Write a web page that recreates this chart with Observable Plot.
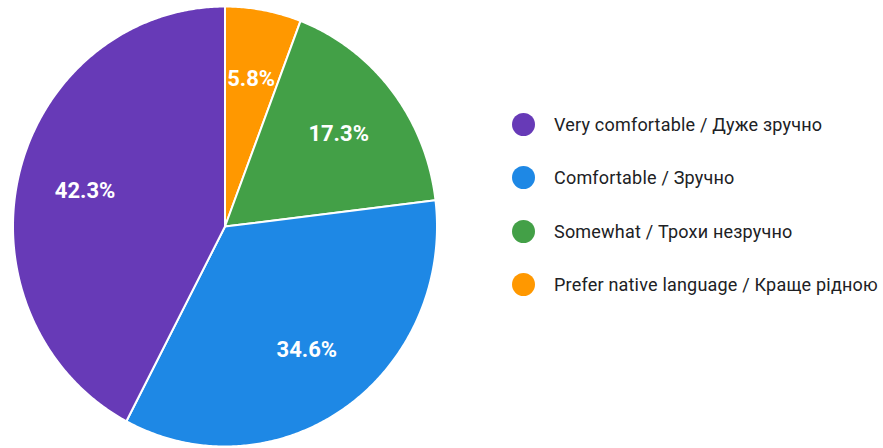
<!DOCTYPE html>
<html>
<head>
<meta charset="utf-8">
<script src="https://cdn.jsdelivr.net/npm/d3@7"></script>
<script src="https://cdn.jsdelivr.net/npm/@observablehq/plot@0.6"></script>
<style>
  html, body { margin: 0; padding: 0; background: #fff; }
  #wrap { position: relative; width: 883px; height: 448px; overflow: hidden; font-family: Roboto, "Noto Sans", sans-serif; }
  #legend { position: absolute; left: 512px; top: 98px; }
  .item { display: flex; align-items: center; height: 53.3px; }
  .sw { width: 23px; height: 23px; border-radius: 50%; margin-right: 19px; flex: none; }
  .lbl { font-size: 18px; color: #202124; white-space: nowrap; letter-spacing: 0.2px; }
</style>
</head>
<body>
<div id="wrap"><div id="chart"></div><div id="legend"></div></div>
<script>
const categories = [
  "Very comfortable / Дуже зручно",
  "Comfortable / Зручно",
  "Somewhat / Трохи незручно",
  "Prefer native language / Краще рідною"
];
const values = [42.3, 34.6, 17.3, 5.8];
const colors = ["#673ab7", "#1e88e5", "#43a047", "#ff9800"];
const labels = ["42.3%", "34.6%", "17.3%", "5.8%"];

// slices go clockwise from 12 o'clock, last category first
const order = [3, 2, 1, 0];
const total = d3.sum(values);
const pts = [];
const textPts = [];
let acc = 0;
for (const i of order) {
  const a0 = acc / total * 2 * Math.PI;
  acc += values[i];
  const a1 = acc / total * 2 * Math.PI;
  const cat = categories[i];
  pts.push({cat, x: 0, y: 0});
  const n = Math.max(2, Math.ceil((a1 - a0) / (Math.PI / 360)));
  for (let k = 0; k <= n; k++) {
    const a = a0 + (a1 - a0) * k / n;
    pts.push({cat, x: Math.sin(a), y: Math.cos(a)});
  }
  pts.push({cat, x: 0, y: 0});
  const am = (a0 + a1) / 2;
  const r = 0.68;
  textPts.push({cat, label: labels[i], x: r * Math.sin(am), y: r * Math.cos(am)});
}

const chart = Plot.plot({
  width: 883,
  height: 448,
  margin: 0,
  x: {domain: [-1, 1], range: [12.5, 436.5], axis: null},
  y: {domain: [-1, 1], range: [446, 6], axis: null},
  color: {domain: categories, range: colors},
  marks: [
    Plot.line(pts, {x: "x", y: "y", z: "cat", fill: "cat", stroke: "#fff", strokeWidth: 2, strokeLinejoin: "round", curve: "linear"}),
    Plot.text(textPts, {x: "x", y: "y", text: "label", fill: "#fff", fontSize: 22, fontWeight: 700, fontFamily: "Roboto, sans-serif"})
  ]
});
document.getElementById("chart").appendChild(chart);

const legend = document.getElementById("legend");
categories.forEach((c, i) => {
  const it = document.createElement("div");
  it.className = "item";
  const sw = document.createElement("span");
  sw.className = "sw";
  sw.style.background = colors[i];
  const lb = document.createElement("span");
  lb.className = "lbl";
  lb.textContent = c;
  it.appendChild(sw);
  it.appendChild(lb);
  legend.appendChild(it);
});
</script>
</body>
</html>
